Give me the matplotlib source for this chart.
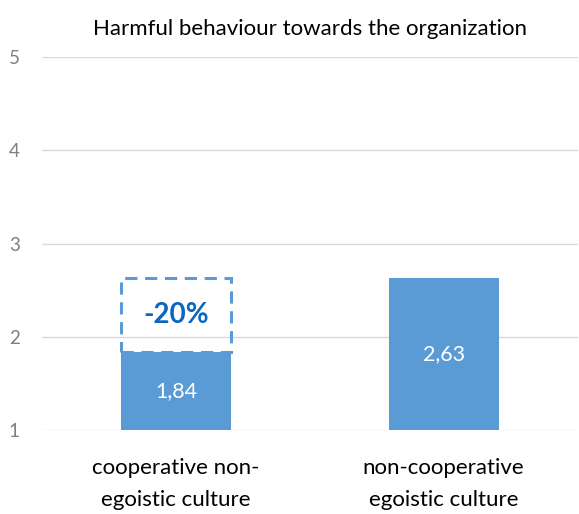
import numpy as np
import matplotlib
matplotlib.use('Agg')
import matplotlib.pyplot as plt
from matplotlib.patches import Rectangle

# Mean scores per culture type
categories = ['cooperative non-\negoistic culture', 'non-cooperative\negoistic culture']
values = [1.84, 2.63]
value_labels = ['1,84', '2,63']
change_label = '-20%'
yticks = [1, 2, 3, 4, 5]

plt.rcParams['font.family'] = ['Lato', 'DejaVu Sans']

bar_color = '#5B9BD5'

fig = plt.figure(figsize=(5.79, 5.14), dpi=100)
ax = fig.add_axes([0.0725, 0.163, 0.925, 0.726])

x = np.arange(len(categories))
width = 0.41
base = 1
bars = ax.bar(x, np.array(values) - base, width, bottom=base, color=bar_color, zorder=3)

# value labels inside the bars
for xi, v, lab in zip(x, values, value_labels):
    ax.text(xi, (v + base) / 2, lab, ha='center', va='center', color='white', fontsize=15.5, zorder=4)

# dashed outline showing the gap to the second bar
gap = Rectangle((x[0] - width / 2, values[0]), width, values[1] - values[0],
                fill=False, edgecolor=bar_color, linewidth=2.2, linestyle=(0, (4, 2.5)),
                zorder=4, clip_on=False)
ax.add_patch(gap)
ax.text(x[0], (values[0] + values[1]) / 2, change_label, ha='center', va='center',
        color='#0A66C2', fontsize=20, fontweight='bold', zorder=5)

ax.set_xlim(-0.5, 1.5)
ax.set_ylim(1, 5)
ax.set_yticks(yticks)
ax.set_yticklabels([str(t) for t in yticks])
ax.set_xticks(x)
ax.set_xticklabels(categories, fontsize=16, linespacing=1.75)
ax.tick_params(axis='y', length=0, labelsize=13.5, labelcolor='#7f7f7f', pad=16)
ax.tick_params(axis='x', length=0, pad=20)
ax.grid(axis='y', color='#d9d9d9', linewidth=1, zorder=0)
for s in ax.spines.values():
    s.set_visible(False)

ax.set_title('Harmful behaviour towards the organization', fontsize=16, pad=16)

fig.savefig('out.png', dpi=100)
